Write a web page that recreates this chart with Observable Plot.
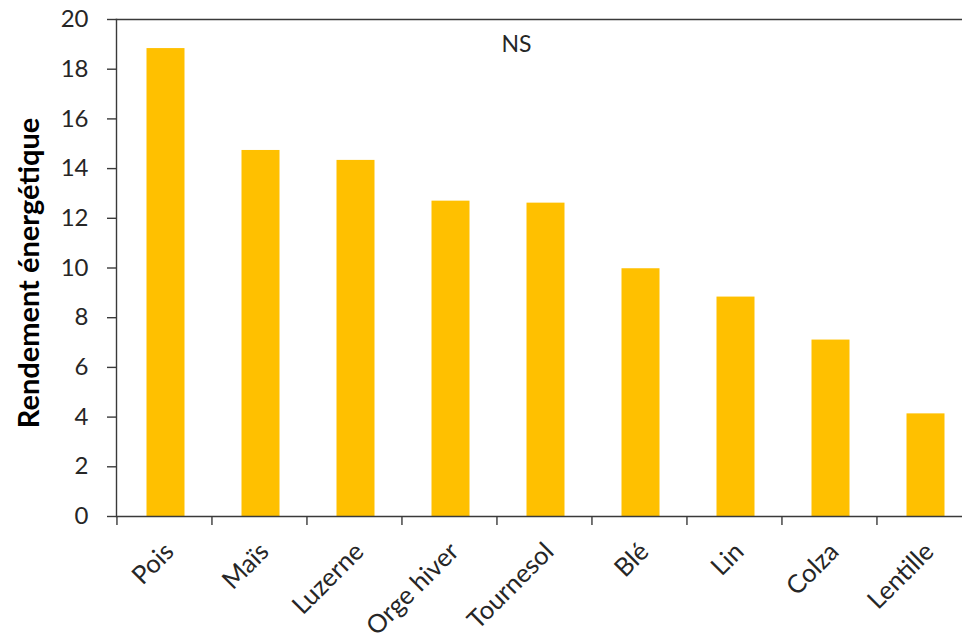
<!DOCTYPE html>
<html>
<head>
<meta charset="utf-8">
<script src="https://cdn.jsdelivr.net/npm/d3@7"></script>
<script src="https://cdn.jsdelivr.net/npm/@observablehq/plot@0.6"></script>
<style>
  html, body { margin: 0; padding: 0; background: #fff; }
  svg { display: block; }
</style>
</head>
<body>
<div id="chart"></div>
<script>
const crops = ["Pois", "Maïs", "Luzerne", "Orge hiver", "Tournesol", "Blé", "Lin", "Colza", "Lentille"];
const rendement = [18.83, 14.73, 14.33, 12.69, 12.61, 9.97, 8.83, 7.10, 4.13];
const yTicks = [0, 2, 4, 6, 8, 10, 12, 14, 16, 18, 20];
const yTitle = "Rendement énergétique";
const annotation = "NS";

const data = crops.map((c, i) => ({crop: c, value: rendement[i]}));

const font = "Lato, 'Open Sans', sans-serif";
const ink = "#262626";
const axisInk = "#3a3a3a";

const chart = Plot.plot({
  width: 962,
  height: 643,
  marginLeft: 116,
  marginRight: 0,
  marginTop: 19,
  marginBottom: 127,
  style: {fontFamily: font, background: "#fff", overflow: "visible"},
  x: {domain: crops, range: [116, 972], paddingInner: 0.6, paddingOuter: 0.3, align: 0.5, axis: null},
  y: {domain: [0, 20], axis: null},
  marks: [
    Plot.barY(data, {x: "crop", y: "value", fill: "#FFC000", dx: 1.5}),
    // frame lines: top and left
    Plot.frame({anchor: "top", stroke: axisInk, strokeWidth: 1.4}),
    Plot.frame({anchor: "left", stroke: axisInk, strokeWidth: 1.4}),
    Plot.ruleY([0], {stroke: axisInk, strokeWidth: 1.4}),
    // y axis ticks and labels
    Plot.axisY({ticks: yTicks, tickSize: 9, tickPadding: 19, tickFormat: d => String(d),
      fontSize: 24, fill: ink, stroke: axisInk, strokeWidth: 1.4, label: null}),
    // x ticks at band boundaries
    Plot.axisX({ticks: crops, tickSize: 9, tickFormat: () => "", dx: -47.55,
      stroke: axisInk, strokeWidth: 1.4, label: null}),
    // rotated category labels
    Plot.text(crops, {x: d => d, frameAnchor: "bottom", rotate: -45, textAnchor: "end",
      lineAnchor: "middle", dx: 5, dy: 31, fontSize: 25.5, fill: ink}),
    // y title
    Plot.text([yTitle], {frameAnchor: "left", rotate: -90, textAnchor: "middle",
      lineAnchor: "bottom", dx: -78, dy: 5, fontSize: 29, fontWeight: "bold", fill: "#000"}),
    // NS annotation
    Plot.text([annotation], {frameAnchor: "top", textAnchor: "middle", lineAnchor: "top",
      dx: -23, dy: 16, fontSize: 23, fill: ink})
  ]
});
document.getElementById("chart").appendChild(chart);
</script>
</body>
</html>
